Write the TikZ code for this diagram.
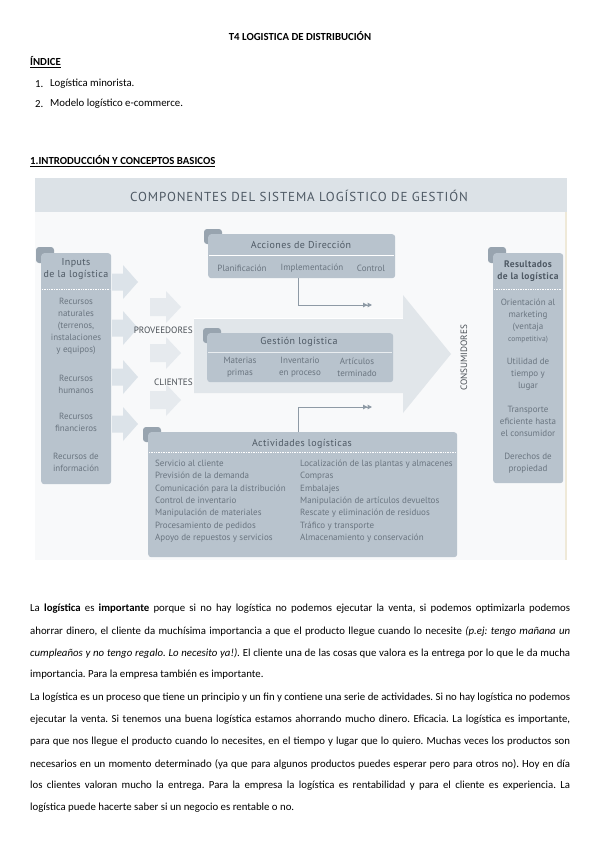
\documentclass[tikz,border=0pt]{standalone}
\usepackage{fontspec}
\usepackage{graphicx}
\setmainfont{Carlito}
\newfontfamily\dfont{PT Sans}
\newfontfamily\dhead[LetterSpace=4]{PT Sans}
\newfontfamily\dtitle[LetterSpace=7]{PT Sans}
\usetikzlibrary{arrows.meta}
\definecolor{panelc}{HTML}{B8C3CD}
\definecolor{tabc}{HTML}{98A4AF}
\definecolor{itemc}{HTML}{6A7580}
\definecolor{headc}{HTML}{4E5964}
\definecolor{bandc}{HTML}{DCE2E7}
\definecolor{bgc}{HTML}{F8F9FA}
\definecolor{arrA}{HTML}{DCE3E9}
\definecolor{arrB}{HTML}{E6EAEE}
\definecolor{bigc}{HTML}{E1E6EA}
\definecolor{connc}{HTML}{8E9AA5}
\definecolor{beige}{HTML}{EFE9D8}
\definecolor{labc}{HTML}{4A5056}
\newsavebox\linebox
\newcommand\jl[1]{\sbox\linebox{#1}\ifdim\wd\linebox>540pt\relax\resizebox{540pt}{\ht\linebox}{\usebox\linebox}\else\makebox[540pt][s]{#1}\fi}
\frenchspacing
\tikzset{
  doc/.style={anchor=west, font=\frenchspacing\fontsize{10.8}{13}\selectfont},
  panel/.style={fill=panelc, rounded corners=3pt, anchor=north west, draw=none},
  tabbox/.style={fill=tabc, rounded corners=3pt},
  headtxt/.style={text=headc, align=center, font=\dhead\fontsize{10}{12}\selectfont},
  itemtxt/.style={text=itemc, align=center, font=\dfont\fontsize{9}{12}\selectfont},
  listtxt/.style={text=itemc, align=left, anchor=north west, font=\dfont\fontsize{9}{12.3}\selectfont},
  sepline/.style={draw=white, line width=0.8pt, dash pattern=on 1pt off 0.7pt},
  conn/.style={draw=connc, line width=1pt, -{Triangle[length=4.5pt,width=4.5pt]Triangle[length=4.5pt,width=4.5pt]}},
  flowlab/.style={text=labc, font=\dfont\fontsize{9.2}{10}\selectfont}
}
\begin{document}
\begin{tikzpicture}[x=1pt,y=-1pt, every node/.style={inner sep=0pt}]
\useasboundingbox (0,0) rectangle (599,848);
\fill[white] (0,0) rectangle (599,848);

% ---- document headings ----
\node[font=\bfseries\fontsize{10.8}{13}\selectfont] (ttl) at (300,36) {T4 LOGISTICA DE DISTRIBUCIÓN};
\node[doc, font=\bfseries\fontsize{10.8}{13}\selectfont] (ind) at (30,62) {\underline{ÍNDICE}};
\node[doc] (n1) at (35,84) {1.};
\node[doc] (i1) at (50,84) {Logística minorista.};
\node[doc] (n2) at (35,104) {2.};
\node[doc] (i2) at (50,104) {Modelo logístico e-commerce.};
\node[doc, font=\bfseries\fontsize{10.8}{13}\selectfont] (sec) at (30,161) {\underline{1.INTRODUCCIÓN Y CONCEPTOS BASICOS}};

% ---- diagram background ----
\fill[bgc] (35,178) rectangle (567,560);
\fill[bandc] (35,178) rectangle (567,212);
\fill[beige] (565,212) rectangle (567,560);
\node[text=headc, font=\dtitle\fontsize{13}{15}\selectfont] (dtl) at (299,196) {COMPONENTES DEL SISTEMA LOGÍSTICO DE GESTIÓN};

% ---- small arrows ----
\foreach \yc in {282,328,377,424}{
  \fill[arrA] (112,\yc-8.5) -- (123,\yc-8.5) -- (123,\yc-17) -- (138,\yc) -- (123,\yc+17) -- (123,\yc+8.5) -- (112,\yc+8.5) -- cycle;
}
\foreach \yc in {307,353,400}{
  \fill[arrB] (150,\yc-9) -- (166,\yc-9) -- (166,\yc-16) -- (181,\yc) -- (166,\yc+16) -- (166,\yc+9) -- (150,\yc+9) -- cycle;
}

% ---- big arrow ----
\fill[bigc] (194,318) -- (403,318) -- (403,295) -- (451,354) -- (403,413) -- (403,393) -- (194,393) -- cycle;
\draw[white, line width=0.8pt] (194,318) -- (403,318);

\node[flowlab, anchor=east] (prov) at (193,330) {PROVEEDORES};
\node[flowlab, anchor=east] (cli) at (193,382) {CLIENTES};
\node[flowlab, rotate=90] (cons) at (464,358) {CONSUMIDORES};

% ---- Inputs panel ----
\fill[tabbox] (36,247) rectangle (54,263);
\node[panel, minimum width=70, minimum height=231] (inp) at (41,253) {};
\node[headtxt] (inph) at (76,269) {Inputs\\de la logística};
\draw[sepline] (42,289) -- (110,289);
\node[itemtxt] (r1) at (76,326) {Recursos\\naturales\\(terrenos,\\instalaciones\\y equipos)};
\node[itemtxt] (r2) at (76,384) {Recursos\\humanos};
\node[itemtxt] (r3) at (76,422) {Recursos\\financieros};
\node[itemtxt] (r4) at (76,462) {Recursos de\\información};

% ---- Resultados panel ----
\fill[tabbox] (488,247) rectangle (506,263);
\node[panel, minimum width=70, minimum height=230] (res) at (493,253) {};
\node[headtxt, font=\dhead\bfseries\fontsize{9.5}{12}\selectfont] (resh) at (528,271) {Resultados\\de la logística};
\draw[sepline] (494,289) -- (562,289);
\node[itemtxt] (o1) at (528,321) {Orientación al\\marketing\\(ventaja\\{\fontsize{7.5}{8}\selectfont competitiva)}};
\node[itemtxt] (o2) at (528,374) {Utilidad de\\tiempo y\\lugar};
\node[itemtxt] (o3) at (528,421) {Transporte\\eficiente hasta\\el consumidor};
\node[itemtxt] (o4) at (528,463) {Derechos de\\propiedad};

% ---- Acciones de Direccion ----
\fill[tabbox] (204,229) rectangle (222,244);
\node[panel, minimum width=187, minimum height=44] (acc) at (208,234) {};
\node[headtxt] (acch) at (301,245) {Acciones de Dirección};
\draw[white, line width=0.8pt] (209,255) -- (394,255);
\node[itemtxt] (a1) at (242,268) {Planificación};
\node[itemtxt] (a2) at (312,268) {Implementación};
\node[itemtxt] (a3) at (371,268) {Control};

% ---- Gestion logistica ----
\fill[tabbox] (203,328) rectangle (221,343);
\node[panel, minimum width=186, minimum height=49] (ges) at (207,333) {};
\node[headtxt] (gesh) at (299,342) {Gestión logística};
\draw[white, line width=0.8pt, opacity=0.7] (208,352) -- (392,352);
\node[itemtxt] (g1) at (240,367) {Materias\\primas};
\node[itemtxt] (g2) at (300,367) {Inventario\\en proceso};
\node[itemtxt] (g3) at (357,367) {Artículos\\terminado};

% ---- Actividades logisticas ----
\fill[tabbox] (143,427) rectangle (161,442);
\node[panel, minimum width=309, minimum height=125] (act) at (148,432) {};
\node[headtxt] (acth) at (302,444) {Actividades logísticas};
\draw[sepline] (149,452) -- (456,452);
\node[listtxt] (al) at (155,460) {Servicio al cliente\\Previsión de la demanda\\Comunicación para la distribución\\Control de inventario\\Manipulación de materiales\\Procesamiento de pedidos\\Apoyo de repuestos y servicios};
\node[listtxt] (ar) at (300,460) {Localización de las plantas y almacenes\\Compras\\Embalajes\\Manipulación de artículos devueltos\\Rescate y eliminación de residuos\\Tráfico y transporte\\Almacenamiento y conservación};

% ---- connectors ----
\coordinate (e1) at (372,305);
\coordinate (e2) at (372,407);
\draw[conn] ([xshift=-3pt]acc.south) |- (e1);
\draw[conn] ([xshift=-4pt]act.north) |- (e2);

% ---- paragraphs ----
\node[doc] (p1) at (30,609) {\jl{La \textbf{logística} es \textbf{importante} porque si no hay logística no podemos ejecutar la venta, si podemos optimizarla podemos}};
\node[doc] (p2) at (30,631) {\jl{ahorrar dinero, el cliente da muchísima importancia a que el producto llegue cuando lo necesite \textit{(p.ej: tengo mañana un}}};
\node[doc] (p3) at (30,653) {\jl{\textit{cumpleaños y no tengo regalo. Lo necesito ya!).} El cliente una de las cosas que valora es la entrega por lo que le da mucha}};
\node[doc] (p4) at (30,675) {importancia. Para la empresa también es importante.};
\node[doc] (q1) at (30,698) {\jl{La logística es un proceso que tiene un principio y un fin y contiene una serie de actividades. Si no hay logística no podemos}};
\node[doc] (q2) at (30,720) {\jl{ejecutar la venta. Si tenemos una buena logística estamos ahorrando mucho dinero. Eficacia. La logística es importante,}};
\node[doc] (q3) at (30,742) {\jl{para que nos llegue el producto cuando lo necesites, en el tiempo y lugar que lo quiero. Muchas veces los productos son}};
\node[doc] (q4) at (30,764) {\jl{necesarios en un momento determinado (ya que para algunos productos puedes esperar pero para otros no). Hoy en día}};
\node[doc] (q5) at (30,786) {\jl{los clientes valoran mucho la entrega. Para la empresa la logística es rentabilidad y para el cliente es experiencia. La}};
\node[doc] (q6) at (30,808) {logística puede hacerte saber si un negocio es rentable o no.};
\end{tikzpicture}
\end{document}
